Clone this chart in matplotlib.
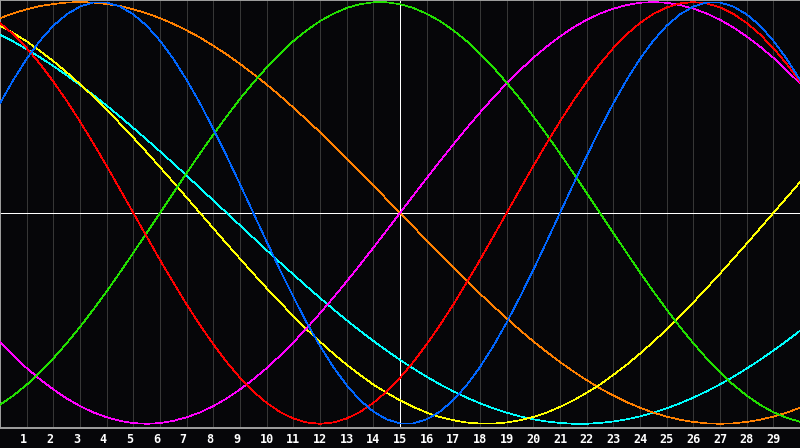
import matplotlib
matplotlib.use("Agg")
import matplotlib.pyplot as plt

# Data: curve values every half day over the month, day 0 .. day 30
t = [i / 2 for i in range(61)]
day_labels = [str(d) for d in range(1, 30)]
today = 15

physical = [0.520, 0.631, 0.731, 0.817, 0.888, 0.942, 0.979, 0.998, 0.998, 0.979,
            0.942, 0.888, 0.817, 0.731, 0.631, 0.520, 0.398, 0.270, 0.136, 0.000,
            -0.136, -0.270, -0.398, -0.520, -0.631, -0.731, -0.817, -0.888, -0.942, -0.979,
            -0.998, -0.998, -0.979, -0.942, -0.888, -0.817, -0.731, -0.631, -0.520, -0.398,
            -0.270, -0.136, 0.000, 0.136, 0.270, 0.398, 0.520, 0.631, 0.731, 0.817,
            0.888, 0.942, 0.979, 0.998, 0.998, 0.979, 0.942, 0.888, 0.817, 0.731, 0.631]
emotional = [0.901, 0.847, 0.782, 0.707, 0.623, 0.532, 0.434, 0.330, 0.223, 0.112,
             0.000, -0.112, -0.223, -0.330, -0.434, -0.532, -0.623, -0.707, -0.782, -0.847,
             -0.901, -0.944, -0.975, -0.994, -1.000, -0.994, -0.975, -0.944, -0.901, -0.847,
             -0.782, -0.707, -0.623, -0.532, -0.434, -0.330, -0.223, -0.112, 0.000, 0.112,
             0.223, 0.330, 0.434, 0.532, 0.623, 0.707, 0.782, 0.847, 0.901, 0.944,
             0.975, 0.994, 1.000, 0.994, 0.975, 0.944, 0.901, 0.847, 0.782, 0.707, 0.623]
intellectual = [-0.910, -0.866, -0.815, -0.756, -0.690, -0.618, -0.541, -0.458, -0.372, -0.282,
                -0.189, -0.095, 0.000, 0.095, 0.189, 0.282, 0.372, 0.458, 0.541, 0.618,
                0.690, 0.756, 0.815, 0.866, 0.910, 0.945, 0.972, 0.990, 0.999, 0.999,
                0.990, 0.972, 0.945, 0.910, 0.866, 0.815, 0.756, 0.690, 0.618, 0.541,
                0.458, 0.372, 0.282, 0.189, 0.095, 0.000, -0.095, -0.189, -0.282, -0.372,
                -0.458, -0.541, -0.618, -0.690, -0.756, -0.815, -0.866, -0.910, -0.945, -0.972, -0.990]
intuitive = [-0.614, -0.677, -0.736, -0.789, -0.837, -0.880, -0.916, -0.946, -0.969, -0.986,
             -0.997, -1.000, -0.997, -0.986, -0.969, -0.946, -0.916, -0.880, -0.837, -0.789,
             -0.736, -0.677, -0.614, -0.547, -0.476, -0.402, -0.325, -0.246, -0.165, -0.083,
             0.000, 0.083, 0.165, 0.246, 0.325, 0.402, 0.476, 0.547, 0.614, 0.677,
             0.736, 0.789, 0.837, 0.880, 0.916, 0.946, 0.969, 0.986, 0.997, 1.000,
             0.997, 0.986, 0.969, 0.946, 0.916, 0.880, 0.837, 0.789, 0.736, 0.677, 0.614]
aesthetic = [0.889, 0.853, 0.814, 0.768, 0.720, 0.667, 0.611, 0.552, 0.489, 0.424,
             0.357, 0.288, 0.217, 0.146, 0.073, 0.000, -0.073, -0.146, -0.217, -0.288,
             -0.357, -0.424, -0.489, -0.552, -0.611, -0.667, -0.720, -0.768, -0.814, -0.853,
             -0.889, -0.920, -0.947, -0.968, -0.983, -0.994, -0.999, -0.999, -0.994, -0.983,
             -0.968, -0.947, -0.920, -0.889, -0.853, -0.814, -0.768, -0.720, -0.667, -0.611,
             -0.552, -0.489, -0.424, -0.357, -0.288, -0.217, -0.146, -0.073, 0.000, 0.073, 0.146]
awareness = [0.924, 0.947, 0.966, 0.981, 0.991, 0.998, 1.000, 0.998, 0.991, 0.981,
             0.966, 0.947, 0.924, 0.897, 0.866, 0.832, 0.793, 0.752, 0.707, 0.659,
             0.609, 0.556, 0.500, 0.442, 0.383, 0.321, 0.259, 0.195, 0.131, 0.065,
             0.000, -0.065, -0.131, -0.195, -0.259, -0.321, -0.383, -0.442, -0.500, -0.556,
             -0.609, -0.659, -0.707, -0.752, -0.793, -0.832, -0.866, -0.897, -0.924, -0.947,
             -0.966, -0.981, -0.991, -0.998, -1.000, -0.998, -0.991, -0.981, -0.966, -0.947, -0.924]
spiritual = [0.846, 0.813, 0.777, 0.738, 0.697, 0.653, 0.607, 0.559, 0.509, 0.457,
             0.403, 0.348, 0.292, 0.235, 0.177, 0.118, 0.059, 0.000, -0.059, -0.118,
             -0.177, -0.235, -0.292, -0.348, -0.403, -0.457, -0.509, -0.559, -0.607, -0.653,
             -0.697, -0.738, -0.777, -0.813, -0.846, -0.876, -0.903, -0.927, -0.947, -0.965,
             -0.979, -0.989, -0.996, -1.000, -1.000, -0.996, -0.989, -0.979, -0.965, -0.947,
             -0.927, -0.903, -0.876, -0.846, -0.813, -0.777, -0.738, -0.697, -0.653, -0.607, -0.559]

bg = "#060609"
lw = 0.5

fig = plt.figure(figsize=(8, 4.48), dpi=100, facecolor=bg)
ax = fig.add_axes([0, 20 / 448, 1, 428 / 448])
ax.set_facecolor(bg)
ax.set_xlim(0, 30)
ax.set_ylim(-1.02, 1.01)

# day grid
for d in range(1, 30):
    ax.axvline(d, color="#363636", lw=lw, antialiased=False, zorder=1)
ax.axvline(today, color="white", lw=lw, antialiased=False, zorder=2)
ax.axhline(0, color="white", lw=lw, antialiased=False, zorder=2)

# curves
ax.plot(t, spiritual, color="#00ffff", lw=lw, antialiased=False, zorder=3)
ax.plot(t, awareness, color="#ff8000", lw=lw, antialiased=False, zorder=3)
ax.plot(t, aesthetic, color="#ffff00", lw=lw, antialiased=False, zorder=3)
ax.plot(t, intuitive, color="#ff00ff", lw=lw, antialiased=False, zorder=3)
ax.plot(t, intellectual, color="#22e000", lw=lw, antialiased=False, zorder=3)
ax.plot(t, emotional, color="#ff0000", lw=lw, antialiased=False, zorder=3)
ax.plot(t, physical, color="#0066ff", lw=lw, antialiased=False, zorder=3)

# frame
ax.set_xticks([])
ax.set_yticks([])
ax.spines["right"].set_visible(False)
for s in ["left", "top", "bottom"]:
    ax.spines[s].set_color("#a0a0a0")
    ax.spines[s].set_linewidth(1.4)

# day labels under the axis
for i, lab in enumerate(day_labels):
    ax.annotate(lab, xy=(i + 1, 0), xycoords=("data", "axes fraction"),
                xytext=(-7, -11), textcoords="offset pixels",
                ha="left", va="center", color="white",
                fontsize=8.5, fontweight="bold", family="DejaVu Sans Mono",
                annotation_clip=False)

fig.savefig("out.png", dpi=100, facecolor=bg)
